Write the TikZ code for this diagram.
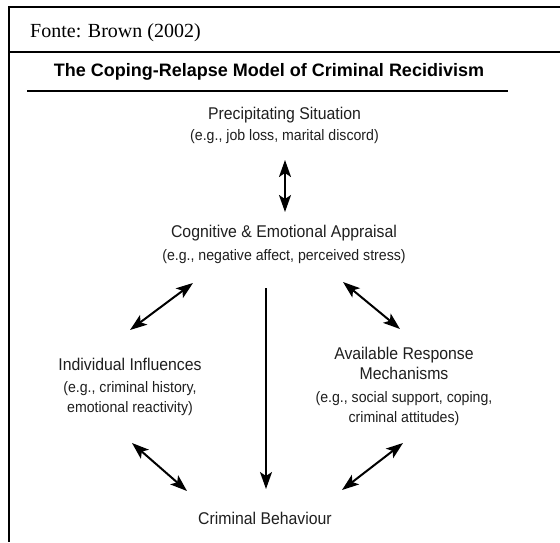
\documentclass[tikz,border=0pt]{standalone}
\usepackage{fontspec}
\setmainfont{Liberation Serif}
\newfontfamily\titlef{Liberation Sans}
\newfontfamily\diagf[FakeStretch=0.93]{Liberation Sans}
\usetikzlibrary{arrows.meta}
\definecolor{ink}{gray}{0.12}
\newcommand{\mainline}{\fontsize{17}{20}\selectfont}
\tikzset{
  frame/.style={line width=2pt, draw=black},
  concept/.style={text=ink, align=center, inner sep=0pt, font=\diagf\fontsize{15.2}{20}\selectfont},
  link/.style={line width=2pt, draw=black, {Stealth[length=17pt,width=12pt,inset=4pt]}-{Stealth[length=17pt,width=12pt,inset=4pt]}},
  onelink/.style={line width=2pt, draw=black, -{Stealth[length=17pt,width=12pt,inset=4pt]}}
}
\begin{document}
\begin{tikzpicture}[x=1pt,y=-1pt]
\useasboundingbox (0,0) rectangle (560,542);
\fill[white] (0,0) rectangle (560,542);
% frame
\draw[frame] (9,7) -- (560,7);
\draw[frame] (9,52) -- (560,52);
\draw[frame] (9,6) -- (9,542);
\draw[line width=2.5pt] (27,91) -- (508,91);
% header texts
\node[anchor=base west, inner sep=0pt, font=\fontsize{20}{24}\selectfont] (fonte) at (30,37) {Fonte: Brown (2002)};
\node[anchor=base, inner sep=0pt, font=\titlef\bfseries\fontsize{18}{22}\selectfont] (title) at (269,76) {The Coping-Relapse Model of Criminal Recidivism};
% concepts
\node[concept] (prec) at (284.5,125.5) {{\mainline Precipitating Situation}\\[1pt](e.g., job loss, marital discord)};
\node[concept] (cog) at (284,244.5) {{\mainline Cognitive \& Emotional Appraisal}\\[3pt](e.g., negative affect, perceived stress)};
\node[concept] (ind) at (130,387) {{\mainline Individual Influences}\\[2pt](e.g., criminal history,\\emotional reactivity)};
\node[concept] (avail) at (404,386.5) {{\mainline Available Response}\\{\mainline Mechanisms}\\[3pt](e.g., social support, coping,\\criminal attitudes)};
\node[concept, anchor=base] (crim) at (265,524) {\mainline Criminal Behaviour};
% connector ends
\coordinate (pc1) at (285,160); \coordinate (pc2) at (285,212);
\coordinate (ci1) at (193,283); \coordinate (ci2) at (130,330);
\coordinate (cc1) at (266,288); \coordinate (cc2) at (266,489);
\coordinate (ca1) at (343,282); \coordinate (ca2) at (400,329);
\coordinate (ib1) at (132,443); \coordinate (ib2) at (187,491);
\coordinate (ab1) at (403,443); \coordinate (ab2) at (342,490);
\draw[link] (pc1) -- (pc2);
\draw[link] (ci1) -- (ci2);
\draw[onelink] (cc1) -- (cc2);
\draw[link] (ca1) -- (ca2);
\draw[link] (ib1) -- (ib2);
\draw[link] (ab1) -- (ab2);
\end{tikzpicture}
\end{document}
